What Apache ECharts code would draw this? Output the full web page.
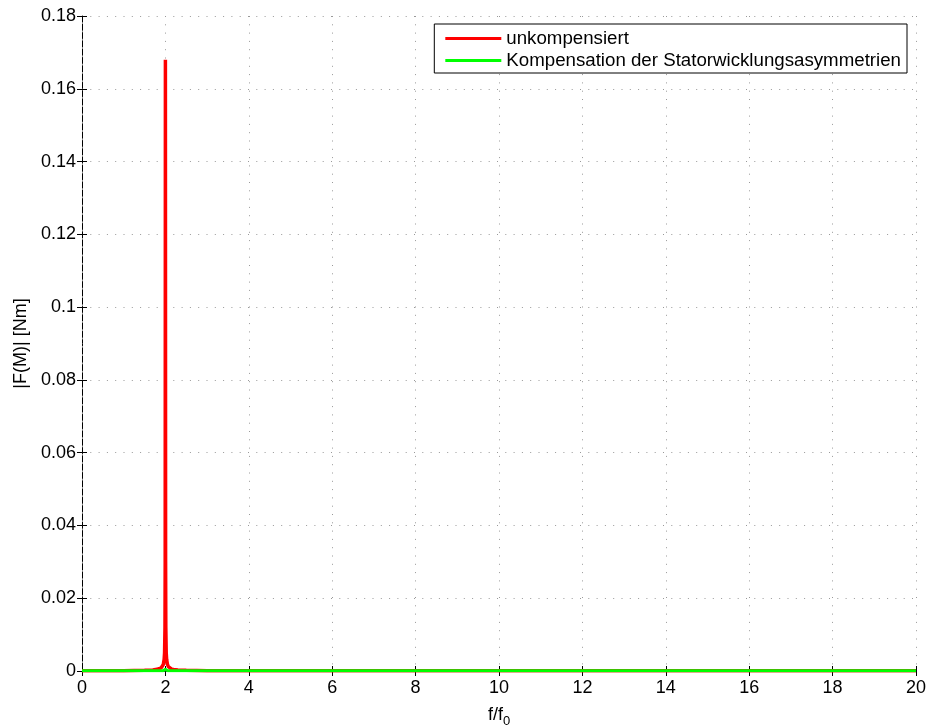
<!DOCTYPE html>
<html>
<head>
<meta charset="utf-8">
<script src="https://cdn.jsdelivr.net/npm/echarts@6/dist/echarts.min.js"></script>
<style>
  html, body { margin: 0; padding: 0; background: #fff; }
  #chart { width: 928px; height: 728px; }
</style>
</head>
<body>
<div id="chart"></div>
<script>
// frequency axis f/f0
const freq = [0, 0.5, 1, 1.5, 1.7, 1.8, 1.85, 1.9, 1.93, 1.95, 1.97, 1.98, 1.99, 1.995, 2, 2.005, 2.01, 2.02, 2.03, 2.05, 2.07, 2.1, 2.15, 2.2, 2.3, 2.5, 3, 4, 6, 8, 10, 12, 14, 16, 18, 20];
const unkompensiert = [0.0001, 0.0001, 0.0001, 0.0002, 0.0003, 0.0005, 0.0006, 0.0009, 0.0013, 0.0018, 0.0032, 0.005, 0.012, 0.03, 0.168, 0.03, 0.012, 0.005, 0.0032, 0.0018, 0.0012, 0.0008, 0.0005, 0.0004, 0.0003, 0.0002, 0.0001, 0.0001, 0.0001, 0.0001, 0.0001, 0.0001, 0.0001, 0.0001, 0.0001, 0.0001];
const kompensiert = [0.0001, 0.0001, 0.0001, 0.0001, 0.0001, 0.0001, 0.0001, 0.0001, 0.0001, 0.0001, 0.0001, 0.0002, 0.0003, 0.0004, 0.0005, 0.0004, 0.0003, 0.0002, 0.0001, 0.0001, 0.0001, 0.0001, 0.0001, 0.0001, 0.0001, 0.0001, 0.0001, 0.0001, 0.0001, 0.0001, 0.0001, 0.0001, 0.0001, 0.0001, 0.0001, 0.0001];
const seriesNames = ['unkompensiert', 'Kompensation der Statorwicklungsasymmetrien'];
const seriesColors = ['#ff0000', '#00ff00'];

const font = 'Liberation Sans, Arial, sans-serif';
const dotted = { color: '#999', type: [1, 7.3], width: 1 };
const gridLine = { show: true, lineStyle: dotted };
const blackLine = { show: true, lineStyle: { color: '#000', width: 1 } };
const tick = { show: true, inside: true, length: 5, lineStyle: { color: '#000' } };

const chart = echarts.init(document.getElementById('chart'));
chart.setOption({
    animation: false,
    grid: { left: 82, right: 12, top: 16, bottom: 57, containLabel: false, outerBoundsMode: 'none' },
    legend: {
        orient: 'vertical',
        right: 21,
        top: 24,
        itemWidth: 56,
        itemHeight: 3,
        itemGap: 3,
        padding: [5, 6, 3, 11],
        icon: 'rect',
        borderColor: '#000',
        borderWidth: 1,
        backgroundColor: '#fff',
        textStyle: { fontFamily: font, fontSize: 18.7, color: '#000' },
        data: seriesNames
    },
    xAxis: [{
        type: 'value', min: 0, max: 20, interval: 2,
        name: 'f/f{s|0}', nameLocation: 'middle', nameGap: 32,
        nameTextStyle: {
            fontFamily: font, fontSize: 18, color: '#000',
            rich: { s: { fontFamily: font, fontSize: 13, color: '#000', padding: [12, 0, 0, 0] } }
        },
        axisLine: blackLine,
        axisTick: tick,
        axisLabel: { fontFamily: font, fontSize: 18, color: '#000', margin: 8 },
        splitLine: gridLine
    }, {
        type: 'value', min: 0, max: 20, interval: 2, position: 'top',
        axisLine: { show: true, lineStyle: dotted },
        axisTick: tick,
        axisLabel: { show: false },
        splitLine: { show: false }
    }],
    yAxis: [{
        type: 'value', min: 0, max: 0.18, interval: 0.02,
        name: '|F(M)| [Nm]', nameLocation: 'middle', nameGap: 50,
        nameTextStyle: { fontFamily: font, fontSize: 18, color: '#000' },
        axisLine: blackLine,
        axisTick: tick,
        axisLabel: {
            fontFamily: font, fontSize: 18, color: '#000', margin: 6,
            formatter: v => (Math.round(v * 100) / 100).toString()
        },
        splitLine: gridLine
    }, {
        type: 'value', min: 0, max: 0.18, interval: 0.02, position: 'right',
        axisLine: { show: true, lineStyle: dotted },
        axisTick: tick,
        axisLabel: { show: false },
        splitLine: { show: false }
    }],
    series: [
        {
            name: seriesNames[0], type: 'line', showSymbol: false,
            data: freq.map((f, i) => [f, unkompensiert[i]]),
            lineStyle: { color: seriesColors[0], width: 3.5 },
            itemStyle: { color: seriesColors[0] }
        },
        {
            name: seriesNames[1], type: 'line', showSymbol: false,
            data: freq.map((f, i) => [f, kompensiert[i]]),
            lineStyle: { color: seriesColors[1], width: 3 },
            itemStyle: { color: seriesColors[1] }
        }
    ]
});
</script>
</body>
</html>
